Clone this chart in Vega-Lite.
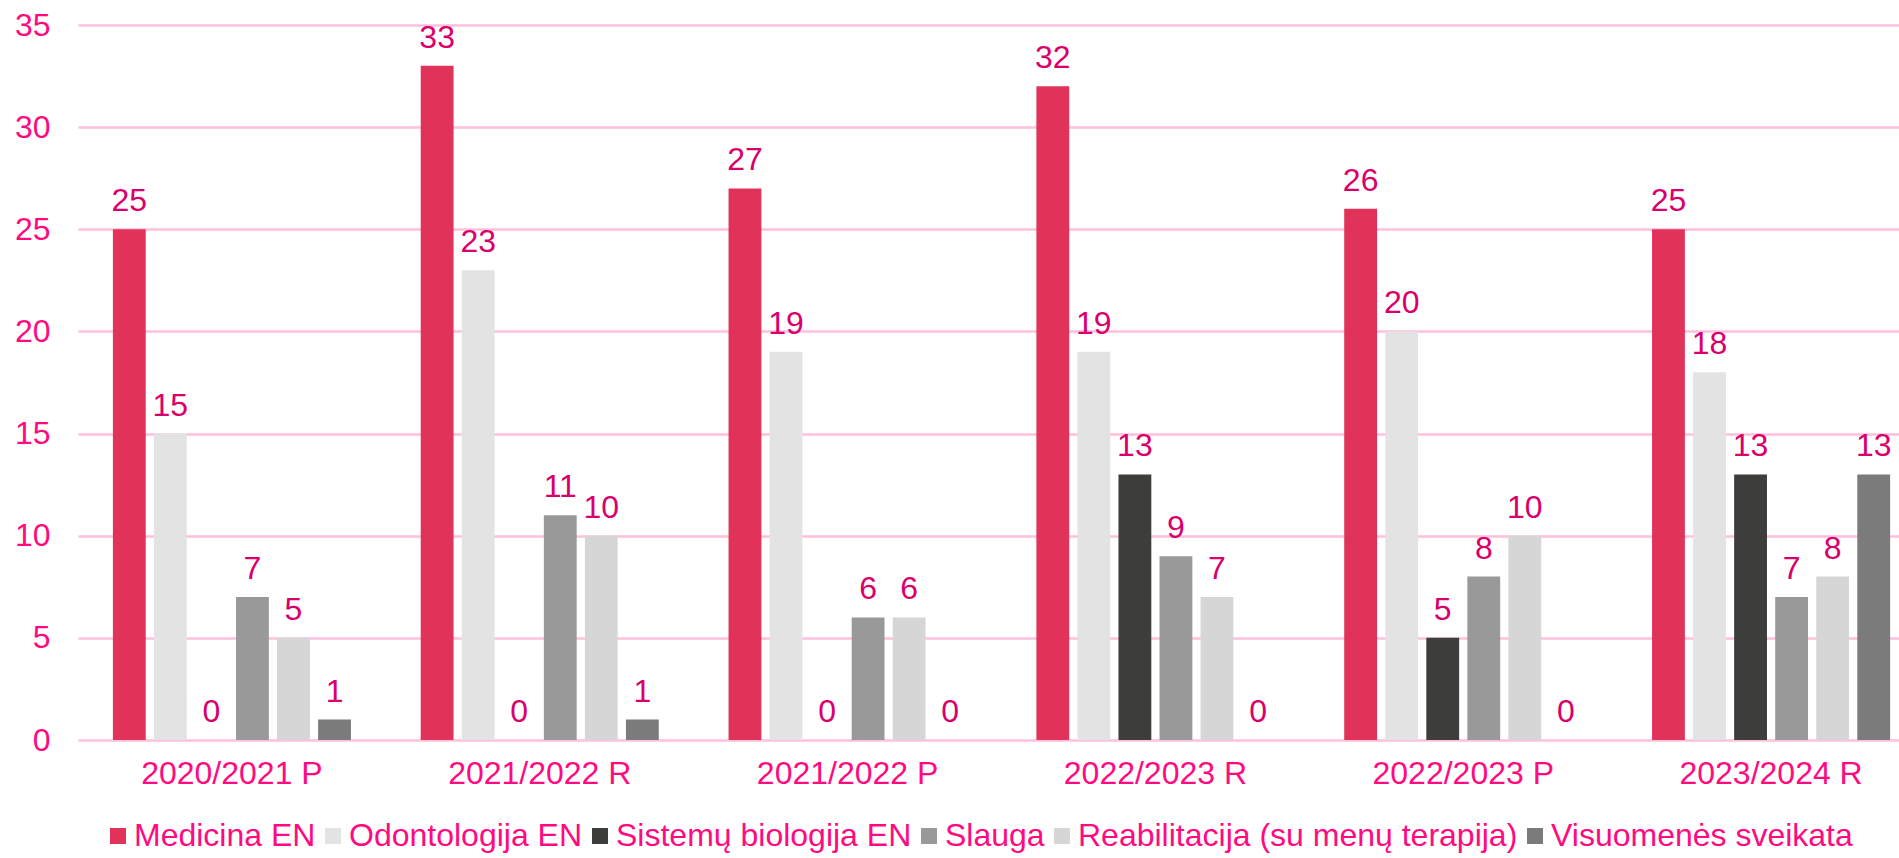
{
  "$schema": "https://vega.github.io/schema/vega-lite/v6.json",
  "width": 1847,
  "height": 715,
  "autosize": {"type": "none"},
  "padding": {"left": 78, "top": 25, "right": -26, "bottom": 118},
  "background": "white",
  "config": {
    "view": {"stroke": null},
    "font": "Liberation Sans"
  },
  "data": {
    "values": [
      {"year": "2020/2021 P", "program": "Medicina EN", "value": 25},
      {"year": "2020/2021 P", "program": "Odontologija EN", "value": 15},
      {"year": "2020/2021 P", "program": "Sistemų biologija EN", "value": 0},
      {"year": "2020/2021 P", "program": "Slauga", "value": 7},
      {"year": "2020/2021 P", "program": "Reabilitacija (su menų terapija)", "value": 5},
      {"year": "2020/2021 P", "program": "Visuomenės sveikata", "value": 1},
      {"year": "2021/2022 R", "program": "Medicina EN", "value": 33},
      {"year": "2021/2022 R", "program": "Odontologija EN", "value": 23},
      {"year": "2021/2022 R", "program": "Sistemų biologija EN", "value": 0},
      {"year": "2021/2022 R", "program": "Slauga", "value": 11},
      {"year": "2021/2022 R", "program": "Reabilitacija (su menų terapija)", "value": 10},
      {"year": "2021/2022 R", "program": "Visuomenės sveikata", "value": 1},
      {"year": "2021/2022 P", "program": "Medicina EN", "value": 27},
      {"year": "2021/2022 P", "program": "Odontologija EN", "value": 19},
      {"year": "2021/2022 P", "program": "Sistemų biologija EN", "value": 0},
      {"year": "2021/2022 P", "program": "Slauga", "value": 6},
      {"year": "2021/2022 P", "program": "Reabilitacija (su menų terapija)", "value": 6},
      {"year": "2021/2022 P", "program": "Visuomenės sveikata", "value": 0},
      {"year": "2022/2023 R", "program": "Medicina EN", "value": 32},
      {"year": "2022/2023 R", "program": "Odontologija EN", "value": 19},
      {"year": "2022/2023 R", "program": "Sistemų biologija EN", "value": 13},
      {"year": "2022/2023 R", "program": "Slauga", "value": 9},
      {"year": "2022/2023 R", "program": "Reabilitacija (su menų terapija)", "value": 7},
      {"year": "2022/2023 R", "program": "Visuomenės sveikata", "value": 0},
      {"year": "2022/2023 P", "program": "Medicina EN", "value": 26},
      {"year": "2022/2023 P", "program": "Odontologija EN", "value": 20},
      {"year": "2022/2023 P", "program": "Sistemų biologija EN", "value": 5},
      {"year": "2022/2023 P", "program": "Slauga", "value": 8},
      {"year": "2022/2023 P", "program": "Reabilitacija (su menų terapija)", "value": 10},
      {"year": "2022/2023 P", "program": "Visuomenės sveikata", "value": 0},
      {"year": "2023/2024 R", "program": "Medicina EN", "value": 25},
      {"year": "2023/2024 R", "program": "Odontologija EN", "value": 18},
      {"year": "2023/2024 R", "program": "Sistemų biologija EN", "value": 13},
      {"year": "2023/2024 R", "program": "Slauga", "value": 7},
      {"year": "2023/2024 R", "program": "Reabilitacija (su menų terapija)", "value": 8},
      {"year": "2023/2024 R", "program": "Visuomenės sveikata", "value": 13}
    ]
  },
  "encoding": {
    "x": {
      "field": "year",
      "type": "nominal",
      "sort": null,
      "scale": {"paddingInner": 0, "paddingOuter": 0},
      "axis": {
        "title": null,
        "labelAngle": 0,
        "labelFontSize": 32,
        "labelColor": "#FF0A80",
        "labelPadding": 18,
        "labelLimit": 400,
        "ticks": false,
        "domain": false,
        "grid": false
      }
    },
    "xOffset": {
      "field": "program",
      "type": "nominal",
      "sort": ["Medicina EN", "Odontologija EN", "Sistemų biologija EN", "Slauga", "Reabilitacija (su menų terapija)", "Visuomenės sveikata"],
      "scale": {"paddingInner": 0.2, "paddingOuter": 0.85}
    },
    "y": {
      "field": "value",
      "type": "quantitative",
      "scale": {"domain": [0, 35], "nice": false},
      "axis": {
        "title": null,
        "values": [0, 5, 10, 15, 20, 25, 30, 35],
        "labelFontSize": 32,
        "labelColor": "#FF0A80",
        "labelPadding": 28,
        "ticks": false,
        "domain": false,
        "grid": true,
        "gridColor": "#FFC0DC",
        "gridWidth": 2.5
      }
    }
  },
  "layer": [
    {
      "mark": {"type": "bar"},
      "encoding": {
        "color": {
          "field": "program",
          "type": "nominal",
          "scale": {
            "domain": ["Medicina EN", "Odontologija EN", "Sistemų biologija EN", "Slauga", "Reabilitacija (su menų terapija)", "Visuomenės sveikata"],
            "range": ["#E1335A", "#E3E3E3", "#3D3D3B", "#999999", "#D6D6D6", "#7B7B7B"]
          },
          "legend": {
            "title": null,
            "orient": "none",
            "direction": "horizontal",
            "columns": 6,
            "legendX": 24,
            "legendY": 795,
            "padding": 0,
            "symbolType": "square",
            "symbolSize": 256,
            "symbolStrokeWidth": 0,
            "labelFontSize": 32,
            "labelColor": "#FF0A80",
            "labelOffset": 0,
            "columnPadding": 1,
            "labelLimit": 1000
          }
        }
      }
    },
    {
      "mark": {"type": "text", "baseline": "alphabetic", "dy": -18, "fontSize": 32, "color": "#D9006C"},
      "encoding": {
        "text": {"field": "value", "type": "quantitative"}
      }
    }
  ]
}
